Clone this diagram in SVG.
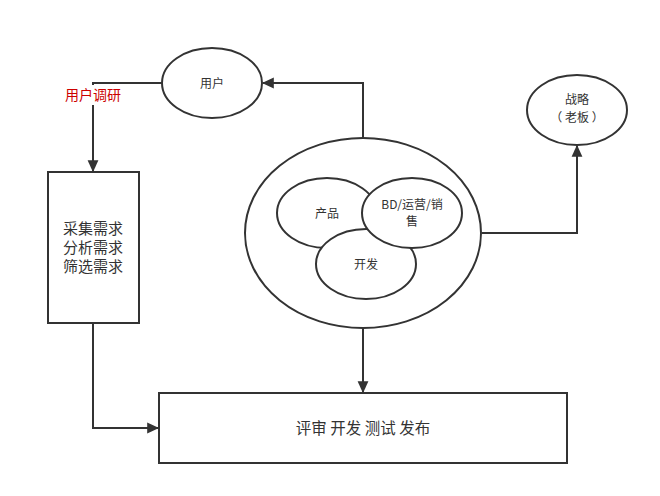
<svg xmlns="http://www.w3.org/2000/svg" width="660" height="496" viewBox="0 0 660 496">
<style>
.s{fill:#fff;stroke:#333;stroke-width:2}
.l{fill:none;stroke:#333;stroke-width:2}
text{font-family:"Noto Sans CJK SC","Liberation Sans",sans-serif;fill:#333;text-anchor:middle}
</style>
<defs><marker id="b" viewBox="0 0 10 10" refX="9" refY="5" markerWidth="12" markerHeight="12" markerUnits="userSpaceOnUse" orient="auto"><path d="M0,0.5L10,5L0,9.5z" fill="#333"/></marker></defs>
<rect width="660" height="496" fill="#fff"/>
<g id="connectors">
<path class="l" d="M363,138V83H263" marker-end="url(#b)"/>
<path class="l" d="M162,83H93V171" marker-end="url(#b)"/>
<path class="l" d="M482,233H577V146" marker-end="url(#b)"/>
<path class="l" d="M363,328V392" marker-end="url(#b)"/>
<path class="l" d="M93,323V428H158" marker-end="url(#b)"/>
<rect x="58" y="85" width="72" height="20" fill="#fff"/>
<text x="93" y="100" font-size="14" style="fill:#c00">用户调研</text>
</g>
<g id="user"><ellipse class="s" cx="212" cy="83" rx="50" ry="35"/><text x="212" y="88" font-size="12">用户</text></g>
<g id="strategy"><ellipse class="s" cx="577" cy="110" rx="50" ry="35"/><text x="577" y="104" font-size="12">战略</text><text x="577" y="122" font-size="12">（ 老板 ）</text></g>
<g id="req"><rect class="s" x="48" y="172" width="91" height="151"/><text x="93" y="234" font-size="15">采集需求</text><text x="93" y="253" font-size="15">分析需求</text><text x="93" y="272" font-size="15">筛选需求</text></g>
<g id="team"><ellipse class="s" cx="363" cy="233" rx="118" ry="95"/>
<ellipse class="s" cx="327" cy="213" rx="50" ry="35"/><text x="327" y="218" font-size="12">产品</text>
<ellipse class="s" cx="366" cy="264" rx="50" ry="35"/><text x="366" y="269" font-size="12">开发</text>
<ellipse class="s" cx="412" cy="213" rx="50" ry="35"/><text x="412" y="209" font-size="12">BD/运营/销</text><text x="412" y="226" font-size="12">售</text></g>
<g id="release"><rect class="s" x="159" y="393" width="408" height="70"/><text x="363" y="434" font-size="15.5">评审 开发 测试  发布</text></g>
</svg>
